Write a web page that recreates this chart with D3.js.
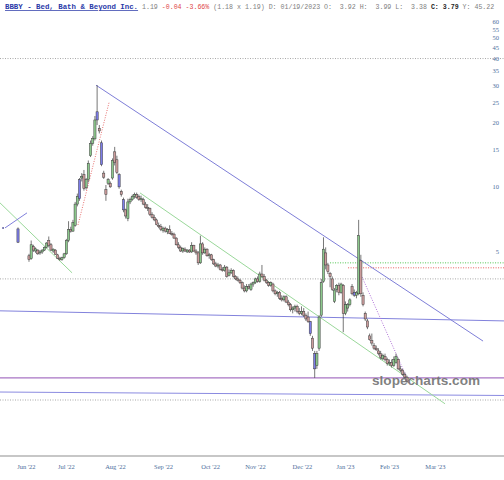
<!DOCTYPE html>
<html>
<head>
<meta charset="utf-8">
<script src="https://cdn.jsdelivr.net/npm/d3@7"></script>
<style>
   html, body { margin: 0; padding: 0; background: #fff; }
   svg { display: block; }
</style>
</head>
<body>
<div id="chart"></div>
<script>
"use strict";

// daily candles [open, high, low, close]; null = no bar drawn
const candles = [
   [6.35, 6.45, 5.45, 5.5],
   null, null, null, null,
   [4.75, 4.85, 4.45, 4.55], [4.6, 5.6, 4.55, 5.35], [5.25, 5.35, 4.95, 5.05], [5.0, 5.2, 4.9, 5.12],
   [5.05, 5.1, 4.8, 4.85], [4.9, 5.05, 4.8, 4.95], [4.95, 5.1, 4.85, 5.05], [5.05, 5.25, 5.0, 5.2],
   [5.2, 5.5, 5.15, 5.45], [5.6, 5.85, 5.2, 5.3], [5.35, 5.45, 5.0, 5.05], [5.0, 5.15, 4.9, 5.1],
   [5.05, 5.1, 4.8, 4.82], [4.8, 4.85, 4.6, 4.62], [4.62, 4.7, 4.5, 4.55], [4.55, 4.7, 4.5, 4.65],
   [4.65, 4.9, 4.6, 4.85], [4.85, 5.7, 4.8, 5.6], [5.6, 6.9, 5.5, 6.3], [6.3, 6.5, 6.1, 6.2],
   [6.2, 7.0, 6.15, 6.8], [6.6, 8.5, 6.5, 8.3], [8.3, 9.3, 8.1, 9.0], [8.8, 11.0, 8.6, 10.8],
   [11.0, 11.6, 10.6, 11.2], [11.4, 12.0, 9.6, 9.8], [9.9, 11.0, 9.7, 10.8], [10.8, 13.3, 10.5, 12.9],
   [14.0, 16.5, 13.8, 16.0], [16.0, 17.3, 15.6, 16.9], [16.8, 21.5, 16.5, 20.6], [22.5, 30.0, 19.5, 20.6],
   [18.8, 19.5, 17.8, 18.3], [16.1, 16.5, 12.5, 12.7], [11.6, 11.9, 10.9, 11.1], [9.7, 10.2, 8.6, 9.2],
   [10.4, 11.0, 10.2, 10.8], [10.4, 10.6, 9.9, 10.0], [11.0, 13.6, 10.8, 13.3], [14.6, 15.4, 12.6, 13.0],
   [13.4, 14.0, 11.5, 11.7], [11.4, 11.6, 9.8, 10.0], [9.5, 9.7, 9.0, 9.2], [8.7, 8.9, 7.6, 7.8],
   [7.8, 7.9, 7.1, 7.3], [7.1, 8.8, 6.9, 8.5], [8.5, 8.9, 8.3, 8.7], [8.7, 9.2, 8.6, 9.0],
   [9.0, 9.4, 8.8, 9.2], [9.2, 9.4, 8.8, 8.9], [9.0, 9.2, 8.6, 8.7], [8.8, 9.1, 8.5, 8.8],
   [8.7, 8.9, 8.2, 8.3], [8.3, 8.5, 7.9, 8.0], [8.0, 8.3, 7.7, 7.9], [7.9, 8.0, 7.3, 7.4],
   [7.4, 7.6, 7.1, 7.2], [7.2, 7.4, 6.9, 7.0], [7.0, 7.1, 6.6, 6.65], [6.6, 6.8, 6.4, 6.5],
   [6.5, 6.7, 6.2, 6.3], [6.25, 6.5, 6.1, 6.4], [6.4, 6.5, 6.1, 6.2], [6.15, 6.4, 6.0, 6.3],
   [6.3, 6.6, 6.0, 6.05], [6.05, 6.2, 5.9, 6.0], [6.0, 6.1, 5.7, 5.75], [5.75, 5.8, 5.3, 5.35],
   [5.35, 5.5, 5.1, 5.2], [5.2, 5.3, 4.95, 5.0], [5.0, 5.2, 4.9, 5.15], [5.1, 5.2, 4.95, 5.0],
   [4.95, 5.1, 4.9, 5.05], [5.05, 5.1, 4.9, 4.95], [4.95, 5.5, 4.9, 5.3], [5.3, 5.35, 4.95, 5.0],
   [5.0, 5.1, 4.8, 4.9], [4.9, 5.0, 4.3, 4.4], [4.4, 5.9, 4.35, 5.4], [5.4, 5.5, 4.8, 4.9],
   [4.9, 5.2, 4.85, 5.1], [5.1, 5.15, 4.7, 4.75], [4.75, 4.9, 4.6, 4.8], [4.8, 4.85, 4.5, 4.55],
   [4.55, 4.6, 4.3, 4.35], [4.35, 4.45, 4.2, 4.25], [4.25, 4.4, 4.15, 4.3], [4.3, 4.35, 4.05, 4.1],
   [4.1, 4.2, 4.0, 4.05], [4.05, 4.3, 4.0, 4.2], [4.2, 4.25, 3.75, 3.8], [3.85, 4.1, 3.8, 3.95],
   [3.95, 4.15, 3.9, 4.05], [4.05, 4.1, 3.75, 3.8], [3.8, 3.85, 3.65, 3.7], [3.7, 3.8, 3.6, 3.65],
   [3.65, 3.7, 3.5, 3.55], [3.55, 3.6, 3.3, 3.35], [3.35, 3.45, 3.2, 3.25], [3.25, 3.5, 3.2, 3.4],
   [3.4, 3.5, 3.3, 3.35], [3.3, 3.55, 3.25, 3.5], [3.5, 3.6, 3.4, 3.55], [3.55, 3.75, 3.5, 3.7],
   [3.7, 3.8, 3.55, 3.6], [3.6, 4.0, 3.55, 3.9], [3.9, 4.3, 3.75, 3.8], [3.8, 3.9, 3.6, 3.65],
   [3.65, 3.7, 3.5, 3.55], [3.55, 3.6, 3.4, 3.45], [3.45, 3.6, 3.4, 3.55], [3.5, 3.55, 3.2, 3.25],
   [3.25, 3.3, 3.1, 3.15], [3.15, 3.25, 3.05, 3.2], [3.2, 3.25, 2.95, 3.0], [3.0, 3.1, 2.9, 2.95],
   [2.95, 3.1, 2.9, 3.05], [3.05, 3.1, 2.85, 2.88], [2.88, 2.95, 2.75, 2.8], [2.8, 2.85, 2.6, 2.65],
   [2.65, 2.75, 2.55, 2.7], [2.7, 2.8, 2.6, 2.75], [2.75, 2.8, 2.55, 2.6], [2.6, 2.7, 2.5, 2.55],
   [2.55, 2.75, 2.5, 2.6], [2.6, 2.7, 2.45, 2.5], [2.5, 2.55, 2.35, 2.4], [2.45, 2.6, 2.3, 2.33],
   [2.33, 2.35, 2.0, 2.05], [1.95, 2.0, 1.7, 1.75], [1.65, 1.7, 1.27, 1.4], [1.45, 1.7, 1.4, 1.65],
   [1.75, 2.5, 1.7, 2.45], [2.5, 3.7, 2.45, 3.55], [3.6, 5.8, 3.55, 5.1], [4.9, 5.2, 4.1, 4.3],
   [4.3, 4.4, 3.9, 4.0], [3.92, 3.99, 3.38, 3.79], [3.7, 3.8, 3.25, 3.3], [2.9, 3.35, 2.85, 3.28],
   [3.3, 3.5, 3.2, 3.45], [3.45, 3.55, 3.1, 3.2], [3.2, 3.55, 3.15, 3.5], [3.45, 3.5, 2.08, 2.55],
   [2.55, 2.9, 2.5, 2.8], [2.7, 2.85, 2.6, 2.8], [2.8, 3.0, 2.75, 2.95], [3.4, 3.5, 3.1, 3.15],
   [3.2, 3.3, 3.05, 3.1], [3.1, 3.25, 3.0, 3.2], [3.15, 7.0, 3.1, 5.9], [4.5, 4.8, 3.05, 3.15],
   [3.1, 3.2, 2.75, 2.8], [2.55, 2.6, 2.35, 2.4], [2.35, 2.4, 2.15, 2.2], [2.0, 2.05, 1.9, 1.92],
   [1.9, 2.05, 1.8, 1.85], [1.8, 1.85, 1.72, 1.75], [1.75, 1.8, 1.7, 1.72], [1.7, 1.75, 1.62, 1.65],
   [1.65, 1.7, 1.55, 1.58], [1.56, 1.65, 1.54, 1.62], [1.6, 1.65, 1.52, 1.55], [1.55, 1.58, 1.45, 1.48],
   [1.48, 1.55, 1.45, 1.5], [1.5, 1.55, 1.42, 1.45], [1.45, 1.6, 1.43, 1.55], [1.5, 1.65, 1.48, 1.6],
   [1.55, 1.57, 1.38, 1.4], [1.4, 1.45, 1.35, 1.38], [1.38, 1.4, 1.3, 1.32], [1.32, 1.35, 1.26, 1.28],
   [1.28, 1.3, 1.2, 1.22]
];

// bars drawn in the blue colour
const blueBars = [0, 28, 36, 38, 46, 48, 133, 135, 153];

const monthLabels = ["Jun '22", "Jul '22", "Aug '22", "Sep '22", "Oct '22", "Nov '22",
   "Dec '22", "Jan '23", "Feb '23", "Mar '23"];
const monthIdx = [3.6, 21.8, 44.1, 66.0, 87.4, 107.8, 129.2, 148.8, 168.8, 189.7];

const priceTicks = [60, 55, 50, 45, 40, 35, 30, 25, 20, 15, 10, 5];

// drawn lines: [bar index, price] end points
const peakLine = [[35.5, 30], [211.6, 1.89]];
const channelLine = [[55.5, 9.37], [194.3, 0.96]];
const leftGreenLine = [[-8.2, 8.41], [24.6, 3.95]];
const leftBlueLine = [[-5.9, 6.42], [4.1, 7.55]];
const riseDotLine = [[27.3, 6.63], [41.4, 24.8]];
const dropDotLine = [[154.7, 4.17], [178.3, 1.18]];
// full-width lines: price at left edge, price at right edge
const midBlueLine = [2.62, 2.35];
const lowBlueLine = [1.09, 1.05];
const purpleLine = [1.27, 1.27];
const grayLevels = [40, 3.7, 1.0];
// levels starting at a bar index: [index, price]
const greenLevel = [142.0, 4.40];
const redLevel = [150.2, 4.17];

const header = {
   title: "BBBY - Bed, Bath & Beyond Inc.",
   last: "1.19",
   change: "-0.04 -3.66%",
   rest: "(1.18 x 1.19) D: 01/19/2023 O:  3.92 H:  3.99 L:  3.38 ",
   closeLabel: "C:",
   close: " 3.79",
   year: " Y: 45.22"
};

(function () {
   const width = 504;
   const height = 480;
   const mono = "'Liberation Mono', 'DejaVu Sans Mono', monospace";
   const serif = "'Liberation Serif', 'DejaVu Serif', serif";

   const svg = d3.select("#chart").append("svg")
      .attr("width", width)
      .attr("height", height)
      .style("background", "#fff");

   const x = d3.scaleLinear()
      .domain([0, candles.length - 1])
      .range([18, 407]);

   const y = d3.scaleLog()
      .domain([1, 60])
      .range([400, 21]);

   const L = x.invert(0);
   const R = x.invert(width);

   const line = d3.line()
      .x(d => x(d[0]))
      .y(d => y(d[1]));

   function drawLine(pts, colour, dash, w) {
      svg.append("path")
         .attr("d", line(pts))
         .attr("fill", "none")
         .attr("stroke", colour)
         .attr("stroke-width", w || 1)
         .attr("stroke-dasharray", dash || null);
   }

   // frame bottom
   svg.append("line")
      .attr("x1", 0).attr("x2", width)
      .attr("y1", 456).attr("y2", 456)
      .attr("stroke", "#b4b4b4")
      .attr("stroke-width", 1.5);

   // dotted levels
   grayLevels.forEach(p => drawLine([[L, p], [R, p]], "#a8a8a8", "1,1.5"));
   drawLine([greenLevel, [R, greenLevel[1]]], "#4fc44f", "1,1.5");
   drawLine([redLevel, [R, redLevel[1]]], "#e85a5a", "1,1.5");

   // wide lines
   drawLine([[L, midBlueLine[0]], [R, midBlueLine[1]]], "#8282dc", null, 1);
   drawLine([[L, lowBlueLine[0]], [R, lowBlueLine[1]]], "#8a8ae0", null, 1);
   drawLine([[L, purpleLine[0]], [R, purpleLine[1]]], "#a874c4", null, 1.2);

   // trend lines
   drawLine(peakLine, "#7e7ed8", null, 1);
   drawLine(channelLine, "#9ad89a", null, 1);
   drawLine(leftGreenLine, "#9ad89a", null, 1);
   drawLine(leftBlueLine, "#8080dc", null, 1);
   drawLine(riseDotLine, "#e87070", "1,1.5", 1);
   drawLine(dropDotLine, "#b070d8", "1,1.5", 1);

   svg.append("circle")
      .attr("cx", x(-6.8)).attr("cy", y(6.42))
      .attr("r", 1)
      .attr("fill", "#6060a0");

   // candles
   const blueSet = new Set(blueBars);
   const bars = candles
      .map((c, i) => c && { i, o: c[0], h: c[1], l: c[2], c: c[3] })
      .filter(Boolean);

   const g = svg.append("g").attr("class", "candles");

   g.selectAll("line.wick")
      .data(bars)
      .enter()
      .append("line")
      .attr("class", "wick")
      .attr("x1", d => x(d.i)).attr("x2", d => x(d.i))
      .attr("y1", d => y(d.h)).attr("y2", d => y(d.l))
      .attr("stroke", "#3c3c3c")
      .attr("stroke-width", 0.7);

   g.selectAll("rect.body")
      .data(bars)
      .enter()
      .append("rect")
      .attr("class", "body")
      .attr("x", d => x(d.i) - 1.1)
      .attr("width", 2.2)
      .attr("y", d => y(Math.max(d.o, d.c)))
      .attr("height", d => Math.max(1, Math.abs(y(d.o) - y(d.c))))
      .attr("fill", d => blueSet.has(d.i) ? "#7c7ce8" : (d.c >= d.o ? "#8cc88c" : "#cc9c9c"))
      .attr("stroke", "#3c3c3c")
      .attr("stroke-width", 0.5);

   // watermark
   svg.append("text")
      .attr("x", 372)
      .attr("y", 385)
      .style("font-family", "'Liberation Sans', Arial, sans-serif")
      .style("font-weight", "bold")
      .style("font-size", "13.6px")
      .attr("fill", "#707070")
      .attr("fill-opacity", 0.9)
      .text("slopecharts.com");

   // axes
   const xAxis = d3.axisBottom(x)
      .tickValues(monthIdx)
      .tickFormat((d, i) => monthLabels[i])
      .tickSize(0)
      .tickPadding(0);

   const xg = svg.append("g")
      .attr("transform", "translate(0,464)")
      .call(xAxis);
   xg.select(".domain").remove();
   xg.selectAll("text")
      .style("font-family", serif)
      .style("font-size", "6.5px")
      .attr("fill", "#4d6e9c");

   const yAxis = d3.axisRight(y)
      .tickValues(priceTicks)
      .tickFormat(d3.format("d"))
      .tickSize(0)
      .tickPadding(0);

   const yg = svg.append("g")
      .attr("transform", "translate(499,0)")
      .call(yAxis);
   yg.select(".domain").remove();
   yg.selectAll("text")
      .attr("text-anchor", "end")
      .style("font-family", serif)
      .style("font-size", "6.5px")
      .attr("fill", "#4d6e9c");

   // header
   svg.append("text")
      .attr("x", 5)
      .attr("y", 9)
      .style("font-family", mono)
      .style("font-weight", "bold")
      .style("font-size", "7.4px")
      .style("text-decoration", "underline")
      .attr("fill", "#2a3aa8")
      .text(header.title);

   const info = svg.append("text")
      .attr("x", 142)
      .attr("y", 9)
      .attr("xml:space", "preserve")
      .style("white-space", "pre")
      .style("font-family", mono)
      .style("font-size", "6.6px")
      .attr("fill", "#808080");

   info.append("tspan").text(header.last + " ");
   info.append("tspan").attr("fill", "#e04848").text(header.change + " ");
   info.append("tspan").text(header.rest);
   info.append("tspan").attr("fill", "#222").style("font-weight", "bold").text(header.closeLabel);
   info.append("tspan").attr("fill", "#222").style("font-weight", "bold").text(header.close);
   info.append("tspan").text(header.year);
})();
</script>
</body>
</html>
